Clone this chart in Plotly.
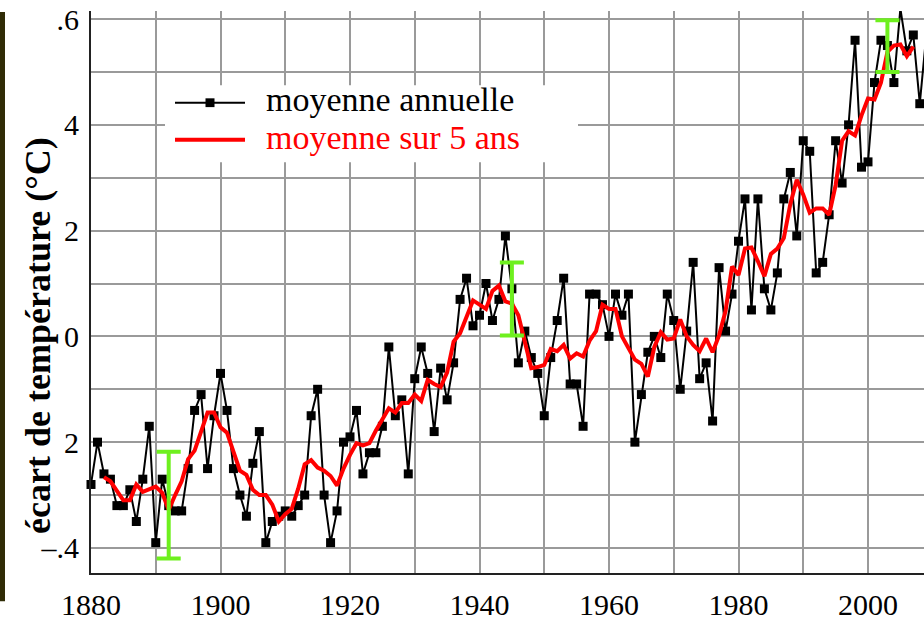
import plotly.graph_objects as go

# ---------------- data ----------------
years = list(range(1880, 2010))
annual = [
    -0.28, -0.20, -0.26, -0.27, -0.32, -0.32, -0.29, -0.35, -0.27, -0.17,   # 1880s
    -0.39, -0.27, -0.32, -0.33, -0.33, -0.25, -0.14, -0.11, -0.25, -0.15,   # 1890s
    -0.07, -0.14, -0.25, -0.30, -0.34, -0.24, -0.18, -0.39, -0.35, -0.34,   # 1900s
    -0.33, -0.34, -0.32, -0.30, -0.15, -0.10, -0.30, -0.39, -0.33, -0.20,   # 1910s
    -0.19, -0.14, -0.26, -0.22, -0.22, -0.17, -0.02, -0.15, -0.12, -0.26,   # 1920s
    -0.08, -0.02, -0.07, -0.18, -0.06, -0.12, -0.05, 0.07, 0.11, 0.02,      # 1930s
    0.04, 0.10, 0.03, 0.07, 0.19, 0.09, -0.05, 0.01, -0.04, -0.07,          # 1940s
    -0.15, -0.04, 0.03, 0.11, -0.09, -0.09, -0.17, 0.08, 0.08, 0.06,        # 1950s
    0.00, 0.08, 0.04, 0.08, -0.20, -0.11, -0.03, 0.00, -0.04, 0.08,         # 1960s
    0.03, -0.10, 0.01, 0.14, -0.08, -0.05, -0.16, 0.13, 0.01, 0.08,         # 1970s
    0.18, 0.26, 0.05, 0.26, 0.09, 0.05, 0.12, 0.26, 0.31, 0.19,             # 1980s
    0.37, 0.35, 0.12, 0.14, 0.23, 0.37, 0.29, 0.40, 0.56, 0.32,             # 1990s
    0.33, 0.48, 0.56, 0.55, 0.48, 0.62, 0.54, 0.57, 0.44, 0.57,             # 2000s
]

years5 = list(range(1882, 2008))
mean5 = [
    -0.266, -0.274, -0.292, -0.310, -0.310, -0.280, -0.294, -0.290,          # 1882-1889
    -0.284, -0.296, -0.328, -0.300, -0.274, -0.232, -0.216, -0.180, -0.144, -0.144,
    -0.172, -0.182, -0.220, -0.254, -0.262, -0.290, -0.300, -0.300, -0.318, -0.350,
    -0.336, -0.326, -0.288, -0.242, -0.234, -0.248, -0.254, -0.264, -0.282, -0.250,
    -0.224, -0.202, -0.206, -0.202, -0.178, -0.156, -0.136, -0.144, -0.126, -0.126,
    -0.110, -0.122, -0.082, -0.090, -0.096, -0.068, -0.010, 0.006, 0.038, 0.068,
    0.060, 0.052, 0.086, 0.096, 0.066, 0.062, 0.040, -0.012, -0.060, -0.058,
    -0.054, -0.024, -0.028, -0.016, -0.042, -0.032, -0.038, -0.008, 0.010, 0.060,
    0.052, 0.052, 0.000, -0.022, -0.044, -0.052, -0.076, -0.020, 0.008, -0.006,
    -0.004, 0.032, 0.000, -0.016, -0.028, -0.004, -0.030, 0.002, 0.048, 0.132,
    0.116, 0.166, 0.168, 0.142, 0.114, 0.156, 0.166, 0.186, 0.250, 0.296,
    0.268, 0.234, 0.242, 0.242, 0.230, 0.286, 0.370, 0.388, 0.380, 0.418,
    0.450, 0.448, 0.480, 0.538, 0.550, 0.552, 0.530, 0.548,                  # 2000-2007
]

unc_years = [1892, 1945, 2003]
unc_center = [-0.319, 0.0705, 0.549]
unc_half = [0.101, 0.069, 0.049]

ytick_vals = [-0.4, -0.3, -0.2, -0.1, 0.0, 0.1, 0.2, 0.3, 0.4, 0.5, 0.6]
ytick_text = ["\u2013.4", "", "2", "", "0", "", "2", "", "4", "", ".6"]
xtick_vals = list(range(1880, 2010, 10))
xtick_text = [str(v) if (v - 1880) % 20 == 0 else "" for v in xtick_vals]

legend_labels = ["moyenne annuelle", "moyenne sur 5 ans"]
y_title = "écart de température (°C)"

# ---------------- geometry helpers ----------------
W, H = 924, 621
L, R, T, B = 91, 0, 11, 34
PW, PH = W - L - R, H - T - B


def px(x):
    return (x - L) / PW


def py(y):
    return (H - B - y) / PH


SERIF = "Liberation Serif"
GREEN = "#6EF01E"

fig = go.Figure()

fig.add_trace(go.Scatter(
    x=years, y=annual, mode="lines+markers",
    line=dict(color="black", width=2),
    marker=dict(symbol="square", size=9, color="black"),
    cliponaxis=False, showlegend=False,
))

fig.add_trace(go.Scatter(
    x=years5, y=mean5, mode="lines",
    line=dict(color="#ff0000", width=4),
    showlegend=False,
))

fig.add_trace(go.Scatter(
    x=unc_years, y=unc_center, mode="markers",
    marker=dict(size=1, color="rgba(0,0,0,0)"),
    error_y=dict(type="data", array=unc_half, visible=True,
                 color=GREEN, thickness=4, width=12),
    cliponaxis=False, showlegend=False,
))

shapes = []
# dark strip at the far left
shapes.append(dict(type="rect", xref="paper", yref="paper",
                   x0=px(0), x1=px(5), y0=py(616), y1=py(12),
                   fillcolor="#302c06", line=dict(width=0), layer="above"))
# legend background
shapes.append(dict(type="rect", xref="paper", yref="paper",
                   x0=px(165), x1=px(578), y0=py(166), y1=py(87),
                   fillcolor="white", line=dict(width=0), layer="above"))
# legend samples
shapes.append(dict(type="line", xref="paper", yref="paper",
                   x0=px(175), x1=px(245), y0=py(105), y1=py(105),
                   line=dict(color="black", width=2), layer="above"))
shapes.append(dict(type="rect", xref="paper", yref="paper",
                   x0=px(205.5), x1=px(214.5), y0=py(109.5), y1=py(100.5),
                   fillcolor="black", line=dict(width=0), layer="above"))
shapes.append(dict(type="line", xref="paper", yref="paper",
                   x0=px(175), x1=px(245), y0=py(143), y1=py(143),
                   line=dict(color="#ff0000", width=4), layer="above"))

annotations = [
    dict(text=legend_labels[0], xref="paper", yref="paper",
         x=px(264), y=py(102), xanchor="left", yanchor="middle",
         showarrow=False, font=dict(family=SERIF, size=34, color="black")),
    dict(text=legend_labels[1], xref="paper", yref="paper",
         x=px(264), y=py(140.5), xanchor="left", yanchor="middle",
         showarrow=False, font=dict(family=SERIF, size=34, color="#ff0000")),
    dict(text="<b>" + y_title + "</b>", xref="paper", yref="paper",
         x=px(38), y=py(344), xanchor="center", yanchor="middle",
         textangle=-90, showarrow=False,
         font=dict(family=SERIF, size=36, color="black")),
]

fig.update_layout(
    width=W, height=H,
    font=dict(family=SERIF, size=30, color="black"),
    margin=dict(l=L, r=R, t=T, b=B, pad=0),
    paper_bgcolor="white", plot_bgcolor="white",
    shapes=shapes, annotations=annotations,
    xaxis=dict(
        range=[1880, 1880 + PW / 6.475],
        tickmode="array", tickvals=xtick_vals, ticktext=xtick_text,
        showgrid=True, gridcolor="#9a9a9a", gridwidth=1.5,
        showline=True, linecolor="#222222", linewidth=2,
        ticks="", zeroline=False, ticklabelstandoff=4,
        tickfont=dict(family=SERIF, size=30, color="black"),
    ),
    yaxis=dict(
        range=[(344.5 - (H - B)) / 542, (344.5 - T) / 542],
        tickmode="array", tickvals=ytick_vals, ticktext=ytick_text,
        showgrid=True, gridcolor="#9a9a9a", gridwidth=1.5,
        showline=True, linecolor="#222222", linewidth=2,
        ticks="", zeroline=False, ticklabelstandoff=4,
        tickfont=dict(family=SERIF, size=30, color="black"),
    ),
)

fig.write_html("out.html")
